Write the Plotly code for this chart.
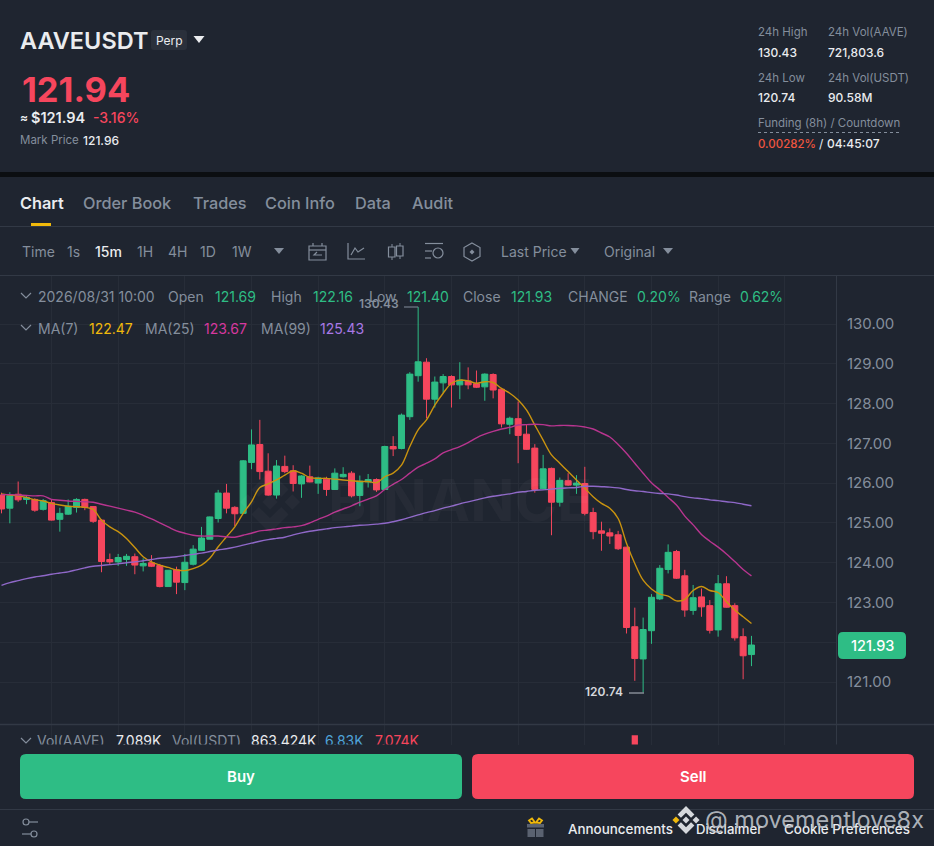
import plotly.graph_objects as go

W, H = 934, 846

# candles (one every 15 min, newest last)
opens = [125.70,125.37,125.72,125.59,125.59,125.34,125.51,125.09,125.22,125.39,125.59,125.41,125.07,124.08,124.02,124.08,124.15,123.92,124.00,123.93,
         123.40,123.82,123.50,123.96,124.31,124.59,125.11,125.75,125.39,125.24,126.52,126.97,126.30,125.70,126.42,126.31,125.98,126.16,126.00,126.10,
         125.84,126.16,126.25,125.69,126.03,126.09,125.84,126.92,126.87,127.67,128.70,129.04,128.11,128.52,128.68,128.47,128.57,128.50,128.42,128.73,
         128.36,127.48,127.62,127.23,126.88,125.86,126.37,125.52,126.06,125.95,125.99,125.26,124.80,124.75,124.70,124.39,122.39,121.58,122.29,123.09,
         123.83,124.28,123.67,122.80,123.14,122.92,122.31,123.47,122.92,122.14,121.69]
highs = [125.76,125.77,126.04,125.70,125.62,125.60,125.58,125.38,125.59,125.62,125.61,125.42,125.09,124.23,124.22,124.22,124.23,124.11,124.19,123.97,
         123.81,123.90,124.22,124.44,124.90,125.16,125.83,125.98,125.42,126.58,127.35,127.59,126.75,126.58,126.69,126.45,126.20,126.44,126.16,126.16,
         126.37,126.40,126.30,126.19,126.23,126.12,126.94,127.18,127.75,128.79,130.43,129.14,128.68,128.74,128.71,129.04,128.91,128.83,128.76,128.76,
         128.39,127.67,128.05,127.46,126.98,126.71,126.39,126.14,126.25,126.20,126.41,125.38,125.03,124.86,124.80,124.40,122.87,122.62,123.21,123.94,
         124.46,124.32,123.82,123.44,123.35,123.06,123.69,123.66,122.98,122.35,122.16]
lows = [125.24,124.99,125.53,125.47,125.28,125.31,125.06,124.78,125.20,125.26,125.32,125.00,123.76,123.96,123.92,123.92,123.71,123.78,123.89,123.38,
        123.40,123.21,123.31,123.93,124.30,124.59,125.01,125.24,124.92,125.22,126.35,126.09,125.68,125.61,126.25,125.79,125.63,126.02,125.73,125.68,
        125.83,126.14,125.64,125.42,125.89,125.78,125.83,126.68,126.85,127.59,128.55,127.63,127.90,128.26,127.90,128.11,128.36,128.39,128.07,128.13,
        127.40,127.23,126.50,126.84,125.76,125.83,124.69,125.41,125.93,125.73,125.19,124.59,124.30,124.47,124.32,122.22,121.03,120.74,121.96,123.06,
        123.73,123.59,122.64,122.69,122.64,122.22,122.14,122.87,122.04,121.07,121.40]
closes = [125.35,125.68,125.58,125.64,125.32,125.56,125.07,125.24,125.42,125.59,125.39,125.04,124.03,124.02,124.13,124.16,123.94,123.98,123.91,123.40,
          123.81,123.51,124.01,124.34,124.62,125.15,125.75,125.37,125.23,126.56,126.96,126.29,125.70,126.43,126.29,125.99,126.18,126.03,126.13,125.84,
          126.25,126.22,125.68,126.05,126.09,125.83,126.92,126.86,127.71,128.74,129.05,128.11,128.54,128.68,128.47,128.59,128.47,128.41,128.74,128.34,
          127.49,127.63,127.20,126.85,125.84,126.36,125.52,126.07,125.95,126.00,125.24,124.78,124.74,124.67,124.35,122.37,121.59,122.32,123.13,123.86,
          124.26,123.61,122.81,123.12,122.89,122.30,123.47,122.88,122.11,121.66,121.93]

ma7 = [125.73,125.70,125.68,125.64,125.58,125.55,125.49,125.45,125.42,125.41,125.39,125.34,125.07,124.90,124.78,124.61,124.38,124.15,124.02,123.94,
       123.88,123.82,123.80,123.85,123.94,124.11,124.40,124.65,124.90,125.24,125.53,125.89,125.98,126.08,126.20,126.31,126.25,126.14,126.12,126.12,
       126.10,126.08,126.06,126.04,126.04,126.01,126.16,126.25,126.45,126.92,127.34,127.59,127.96,128.26,128.51,128.59,128.57,128.51,128.55,128.53,
       128.38,128.26,128.09,127.84,127.46,127.08,126.71,126.50,126.29,126.08,125.87,125.66,125.49,125.37,125.11,124.49,123.98,123.56,123.34,123.21,
       123.16,123.04,123.08,123.30,123.40,123.30,123.25,123.02,122.81,122.64,122.47]
ma25 = [125.71,125.71,125.70,125.69,125.68,125.68,125.59,125.57,125.55,125.54,125.53,125.52,125.47,125.42,125.37,125.32,125.27,125.19,125.10,125.00,
        124.90,124.80,124.74,124.69,124.67,124.67,124.67,124.65,124.64,124.69,124.74,124.80,124.82,124.85,124.88,124.90,124.93,125.00,125.09,125.17,
        125.27,125.35,125.43,125.52,125.60,125.68,125.84,125.97,126.09,126.25,126.40,126.50,126.61,126.76,126.84,126.92,127.02,127.14,127.23,127.30,
        127.36,127.40,127.46,127.47,127.48,127.47,127.44,127.45,127.45,127.44,127.41,127.36,127.26,127.16,126.97,126.75,126.50,126.25,126.01,125.83,
        125.64,125.45,125.17,124.95,124.71,124.54,124.39,124.22,124.03,123.83,123.67]
ma99 = [123.43,123.50,123.55,123.60,123.64,123.67,123.71,123.74,123.77,123.82,123.87,123.91,123.93,123.95,123.97,124.00,124.02,124.05,124.08,124.11,
        124.13,124.15,124.18,124.21,124.24,124.28,124.32,124.35,124.39,124.44,124.49,124.54,124.58,124.61,124.64,124.70,124.75,124.79,124.82,124.85,
        124.88,124.90,124.92,124.94,124.95,124.97,124.99,125.03,125.08,125.14,125.20,125.26,125.31,125.37,125.42,125.48,125.53,125.58,125.63,125.67,
        125.70,125.73,125.77,125.79,125.82,125.83,125.85,125.87,125.88,125.89,125.92,125.92,125.91,125.90,125.88,125.84,125.81,125.79,125.76,125.74,
        125.73,125.70,125.66,125.63,125.61,125.58,125.56,125.53,125.51,125.47,125.43]

# only the tallest volume bar pokes out above the Buy/Sell panel
vol_candle = [76]
vol_values = [25.0]

price_ticks = [121, 122, 123, 124, 125, 126, 127, 128, 129, 130]
# 122.00 sits behind the last price tag
price_labels = ["121.00", "", "123.00", "124.00", "125.00", "126.00", "127.00", "128.00", "129.00", "130.00"]
tabs = ["Chart", "Order Book", "Trades", "Coin Info", "Data", "Audit"]
intervals = ["Time", "1s", "15m", "1H", "4H", "1D", "1W"]

BG = "#1f2530"
LINE = "#323945"
GRID = "#272d38"
GREEN = "#2ebd85"
RED = "#f6465d"
GRAY = "#848e9c"
WHITE = "#eaecef"
FONT = "Inter"


def px(x):
    return x / W


def py(y):
    return 1 - y / H


def ix(x):
    # screen x -> candle index
    return (x - 1.5) / 8.333


candle_x = list(range(len(closes)))

fig = go.Figure()
fig.add_trace(go.Candlestick(x=candle_x, open=opens, high=highs, low=lows, close=closes,
                             increasing=dict(line=dict(color=GREEN, width=1), fillcolor=GREEN),
                             decreasing=dict(line=dict(color=RED, width=1), fillcolor=RED),
                             whiskerwidth=0, hoverinfo="skip"))
fig.add_trace(go.Scatter(x=candle_x, y=ma7, mode="lines", line=dict(color="#c9930f", width=1.4, shape="spline"), hoverinfo="skip"))
fig.add_trace(go.Scatter(x=candle_x, y=ma25, mode="lines", line=dict(color="#b8358f", width=1.4, shape="spline"), hoverinfo="skip"))
fig.add_trace(go.Scatter(x=candle_x, y=ma99, mode="lines", line=dict(color="#8f68c8", width=1.4, shape="spline"), hoverinfo="skip"))

fig.add_trace(go.Bar(x=vol_candle, y=vol_values, width=0.75, marker=dict(color=RED, line=dict(width=0)),
                     yaxis="y2", hoverinfo="skip"))
# volume legend is cut off by the panel, so it goes inside the clipped axis
vol_text = [(37, "Vol(AAVE)", GRAY), (116, "7.089K", WHITE), (172, "Vol(USDT)", GRAY),
            (251, "863.424K", WHITE), (325, "6.83K", "#4fa3d8"), (375, "7.074K", RED)]
fig.add_trace(go.Scatter(x=[ix(t[0]) for t in vol_text], y=[21.0] * len(vol_text),
                         text=[t[1] for t in vol_text], mode="text", textposition="middle right",
                         textfont=dict(family=FONT, size=14, color=[t[2] for t in vol_text]),
                         yaxis="y2", cliponaxis=True, hoverinfo="skip"))

shapes = []
annots = []


def text(x, y, s, color=GRAY, size=14, weight=400, anchor="left"):
    # annotations land about a pixel right and low of the asked spot
    shift = 1 if anchor == "left" else 0
    annots.append(dict(x=px(x - shift), y=py(y - 0.5), xref="paper", yref="paper", text=s, showarrow=False,
                       xanchor=anchor, yanchor="middle", borderpad=0,
                       font=dict(family=FONT, size=size, color=color, weight=weight)))


def hline(x0, x1, y, color=LINE, width=1, dash="solid"):
    shapes.append(dict(type="line", xref="paper", yref="paper", x0=px(x0), x1=px(x1), y0=py(y), y1=py(y),
                       line=dict(color=color, width=width, dash=dash)))


def vline(x, y0, y1, color=LINE, width=1):
    shapes.append(dict(type="line", xref="paper", yref="paper", x0=px(x), x1=px(x), y0=py(y0), y1=py(y1),
                       line=dict(color=color, width=width)))


def box(x0, y0, x1, y1, fill):
    shapes.append(dict(type="rect", xref="paper", yref="paper", x0=px(x0), x1=px(x1), y0=py(y1), y1=py(y0),
                       fillcolor=fill, line=dict(width=0)))


def poly(points, fill=None, color=None, width=1.2, closed=False):
    p = "M " + " L ".join(f"{px(a):.5f} {py(b):.5f}" for a, b in points)
    if closed:
        p += " Z"
    shapes.append(dict(type="path", xref="paper", yref="paper", path=p, fillcolor=fill or "rgba(0,0,0,0)",
                       line=dict(color=color or "rgba(0,0,0,0)", width=width)))


def rrect(x0, y0, x1, y1, r, fill):
    q = lambda a, b: f"{px(a):.5f} {py(b):.5f}"
    p = (f"M {q(x0 + r, y0)} L {q(x1 - r, y0)} Q {q(x1, y0)} {q(x1, y0 + r)} L {q(x1, y1 - r)} "
         f"Q {q(x1, y1)} {q(x1 - r, y1)} L {q(x0 + r, y1)} Q {q(x0, y1)} {q(x0, y1 - r)} "
         f"L {q(x0, y0 + r)} Q {q(x0, y0)} {q(x0 + r, y0)} Z")
    shapes.append(dict(type="path", xref="paper", yref="paper", path=p, fillcolor=fill, line=dict(width=0)))


def tri(cx, cy, w, h, color):
    poly([(cx - w / 2, cy - h / 2), (cx + w / 2, cy - h / 2), (cx, cy + h / 2)], fill=color, closed=True, width=0)


def chevron(cx, cy):
    poly([(cx - 5, cy - 3), (cx, cy + 2), (cx + 5, cy - 3)], color=GRAY)


def diamond(cx, cy, r, fill):
    poly([(cx, cy - r), (cx + r, cy), (cx, cy + r), (cx - r, cy)], fill=fill, closed=True, width=0)


def logo(cx, cy, r, fill, left_fill=None):
    diamond(cx, cy, r * 0.25, fill)
    diamond(cx - r * 0.72, cy, r * 0.25, left_fill or fill)
    diamond(cx + r * 0.72, cy, r * 0.25, fill)
    for s in (-1, 1):
        arm = [(0, 1), (0.6, 0.4), (0.36, 0.16), (0, 0.52), (-0.36, 0.16), (-0.6, 0.4)]
        poly([(cx + a * r, cy + s * b * r) for a, b in arm], fill=fill, closed=True, width=0)


# header
text(20, 41, "AAVEUSDT", WHITE, 23.5, 600)
rrect(151, 30, 187, 50, 3, "#2a303b")
text(169, 41, "Perp", WHITE, 12, anchor="center")
tri(199, 39.5, 11, 7, WHITE)
text(22, 90, "121.94", RED, 34.5, 700)
text(20, 118, "≈", WHITE, 12, 600)
text(31, 118, "$121.94", WHITE, 14.5, 600)
text(93, 118, "-3.16%", RED, 14, 500)
text(20, 141, "Mark Price", GRAY, 11.5)
text(83, 141, "121.96", WHITE, 12, 500)

text(758, 33, "24h High", GRAY, 11.5)
text(828, 33, "24h Vol(AAVE)", GRAY, 11.5)
text(758, 53, "130.43", WHITE, 12, 500)
text(828, 53, "721,803.6", WHITE, 12, 500)
text(758, 78, "24h Low", GRAY, 11.5)
text(828, 78, "24h Vol(USDT)", GRAY, 11.5)
text(758, 98, "120.74", WHITE, 12, 500)
text(828, 98, "90.58M", WHITE, 12, 500)
text(758, 123, "Funding (8h) / Countdown", GRAY, 11.5)
hline(758, 901, 132.5, GRAY, 1, "dot")
text(758, 144, "0.00282%", "#f0553f", 11.5, 500)
text(819, 144, "/", WHITE, 12)
text(827, 144, "04:45:07", WHITE, 12, 500)

# black band under the header
box(0, 172, W, 177, "#0b0e11")

# tabs
tab_x = [20, 83, 193, 265, 355, 412]
for i, name in enumerate(tabs):
    text(tab_x[i], 203, name, WHITE if i == 0 else GRAY, 16.3, 600 if i == 0 else 500)
box(31, 223, 51, 226, "#f0b90b")
hline(0, W, 226.5)

# interval row
int_x = [22, 67, 95, 137, 168, 200, 232]
for i, name in enumerate(intervals):
    text(int_x[i], 252, name, WHITE if name == "15m" else GRAY, 14, 500 if name == "15m" else 400)
tri(279, 251, 10, 6, GRAY)
text(501, 252, "Last Price", GRAY, 14)
tri(575, 251, 9, 6, GRAY)
text(604, 252, "Original", GRAY, 14)
tri(668, 251, 10, 6, GRAY)
hline(0, W, 275.5)

# toolbar icons
poly([(309, 246), (326, 246), (326, 260), (309, 260)], color=GRAY, closed=True)
hline(309, 326, 250, GRAY, 1.2)
vline(313, 243, 246, GRAY, 1.2)
vline(322, 243, 246, GRAY, 1.2)
poly([(322, 255), (314, 255), (317, 252)], color=GRAY)
poly([(348, 243), (348, 259), (365, 259)], color=GRAY)
poly([(351, 255), (355, 248), (358, 252), (364, 248)], color=GRAY)
vline(392, 244, 260, GRAY, 1)
vline(400, 243, 259, GRAY, 1)
poly([(388.5, 247), (395, 247), (395, 257), (388.5, 257)], fill=BG, color=GRAY, closed=True)
poly([(396.5, 246), (403, 246), (403, 256), (396.5, 256)], fill=BG, color=GRAY, closed=True)
hline(425, 443, 243.5, GRAY, 1.2)
hline(425, 432, 251, GRAY, 1.2)
hline(425, 431, 258, GRAY, 1.2)
shapes.append(dict(type="circle", xref="paper", yref="paper", x0=px(433), x1=px(443), y0=py(258), y1=py(248),
                   line=dict(color=GRAY, width=1.2)))
poly([(472, 243), (480, 247.5), (480, 256.5), (472, 261), (464, 256.5), (464, 247.5)], color=GRAY, closed=True)
poly([(472, 249.5), (474.5, 252), (472, 254.5), (469.5, 252)], fill=GRAY, closed=True, width=0)

# chart borders
vline(836.5, 276, 744.5)
hline(0, W, 724.5, LINE, 1.5)

# BINANCE watermark
WM = "rgba(255,255,255,0.03)"
logo(270, 502, 31, WM)
text(328, 500, "BINANCE", WM, 58, 700)

# legend rows
chevron(26, 296)
for x, s, c in [(38, "2026/08/31 10:00", GRAY), (168, "Open", GRAY), (215, "121.69", GREEN), (271, "High", GRAY),
                (313, "122.16", GREEN), (369, "Low", GRAY), (407, "121.40", GREEN), (463, "Close", GRAY),
                (511, "121.93", GREEN), (568, "CHANGE", GRAY), (637, "0.20%", GREEN), (689, "Range", GRAY),
                (740, "0.62%", GREEN)]:
    text(x, 297, s, c, 14)
chevron(26, 328)
for x, s, c in [(38, "MA(7)", GRAY), (89, "122.47", "#f0b90b"), (145, "MA(25)", GRAY), (204, "123.67", "#d6389f"),
                (261, "MA(99)", GRAY), (320, "125.43", "#a878e6")]:
    text(x, 329, s, c, 14)
chevron(26, 741)

# high / low tags and last price
text(400, 304, "130.43", GRAY, 12, 600, "right")
hline(404, 418, 307, GRAY, 1)
text(624, 692, "120.74", "#d5d8dc", 12, 600, "right")
hline(629, 644, 693, "#b7bdc6", 1)
rrect(838, 632, 906, 659, 5, GREEN)
text(872, 645.5, "121.93", "#ffffff", 14.5, 500, "center")

# buy / sell
rrect(20, 754, 462, 799, 6, GREEN)
text(241, 777, "Buy", "#ffffff", 15, 600, "center")
rrect(472, 754, 914, 799, 6, RED)
text(693, 777, "Sell", "#ffffff", 15, 600, "center")
hline(0, W, 809.5)

# footer
hline(26, 38, 822, GRAY, 1.2)
hline(22, 34, 834, GRAY, 1.2)
for cx, cy in [(26, 822), (34, 834)]:
    shapes.append(dict(type="circle", xref="paper", yref="paper", x0=px(cx - 3), x1=px(cx + 3), y0=py(cy + 3), y1=py(cy - 3),
                       fillcolor=BG, line=dict(color=GRAY, width=1.2)))
GIFT = "#5a6270"
box(527, 824, 544, 827.5, GIFT)
box(527.5, 829, 535, 837, GIFT)
box(536, 829, 543.5, 837, GIFT)
poly([(529, 820.5), (532, 818.5), (535, 822.5), (531, 823)], color="#f0b90b", width=1.8, closed=True)
poly([(542, 820.5), (539, 818.5), (536, 822.5), (540, 823)], color="#f0b90b", width=1.8, closed=True)
text(568, 829, "Announcements", WHITE, 13.4, 500)
text(696, 829, "Disclaimer", WHITE, 13.2, 500)
text(784, 829, "Cookie Preferences", WHITE, 13.4, 500)

# reposter watermark on top of the footer
logo(686, 820, 14, "#d5d8dc", "#f0b90b")
text(705, 820, "@ movementlove8x", "rgba(190,195,202,0.9)", 23.5)

fig.update_layout(
    width=W, height=H, margin=dict(l=0, r=0, t=0, b=0), autosize=False,
    paper_bgcolor=BG, plot_bgcolor=BG, showlegend=False, shapes=shapes, annotations=annots,
    font=dict(family=FONT, color=GRAY), boxgap=0.2, boxgroupgap=0.1,
    xaxis=dict(domain=[0, px(836)], range=[ix(0), ix(836)], anchor="y", showticklabels=False, ticks="",
               tickmode="array", tickvals=[6 + 8 * n for n in range(12)], showgrid=True, gridcolor=GRID, gridwidth=1,
               zeroline=False, showline=False, rangeslider=dict(visible=False), fixedrange=True),
    yaxis=dict(domain=[py(724), py(276)], range=[130 - (724 - 324) / 39.78, 130 + (324 - 276) / 39.78],
               side="right", tickmode="array", tickvals=price_ticks, ticktext=price_labels, ticks="", ticklabelstandoff=10,
               tickfont=dict(family=FONT, size=15, color=GRAY), showgrid=True, gridcolor=GRID, gridwidth=1,
               zeroline=False, showline=False, fixedrange=True),
    yaxis2=dict(domain=[py(744.5), py(725)], range=[20, 30.5], anchor="x", showticklabels=False, ticks="",
                showgrid=False, zeroline=False, showline=False, fixedrange=True),
)

# page has a default 8px body margin, drop it so the figure fills the window
fig.write_html("out.html", config={"displayModeBar": False},
               post_script="document.body.style.margin='0';document.body.style.background='#1f2530';")
